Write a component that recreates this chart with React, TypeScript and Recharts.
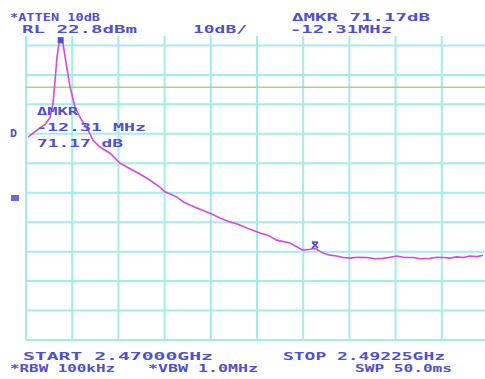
import React from 'react';
import {
  LineChart,
  Line,
  XAxis,
  YAxis,
  ReferenceLine,
  ReferenceDot,
} from 'recharts';

// sweep: 2.47000 GHz .. 2.49225 GHz, 10 divisions (MHz)
const freqTicks = [2470, 2472.225, 2474.45, 2476.675, 2478.9, 2481.125, 2483.35, 2485.575, 2487.8, 2490.025, 2492.25];
// reference level 22.8 dBm, 10 dB/div
const levelTicks = [22.8, 12.8, 2.8, -7.2, -17.2, -27.2, -37.2, -47.2, -57.2, -67.2, -77.2];

const traceFreq = [
  2470.11, 2470.34, 2470.67, 2470.92, 2471.16, 2471.3, 2471.4, 2471.49, 2471.59, 2471.67,
  2471.78, 2471.96, 2472.12, 2472.36, 2472.68, 2472.99, 2473.23, 2473.56, 2474.05, 2474.53,
  2475.15, 2475.83, 2476.45, 2476.69, 2477.26, 2477.56, 2478.14, 2478.86, 2479.34, 2479.82,
  2480.21, 2480.63, 2481.27, 2481.65, 2482.07, 2482.71, 2483.34, 2483.68, 2483.92, 2484.3,
  2484.64, 2484.96, 2485.27, 2485.6, 2485.99, 2486.41, 2486.81, 2487.19, 2487.53, 2487.85,
  2488.25, 2488.64, 2489.02, 2489.46, 2489.79, 2490.08, 2490.42, 2490.74, 2491.05, 2491.38,
  2491.72, 2492.01,
];
const traceLevel = [
  -8.3, -7.0, -5.3, -4.0, -1.6, 3.1, 10.9, 18.7, 23.5, 23.9,
  23.5, 15.4, 8.7, 1.9, -2.6, -6.0, -9.4, -11.7, -13.8, -17.2,
  -19.6, -22.3, -25.3, -26.9, -28.6, -30.3, -32.1, -34.2, -35.8, -37.1,
  -37.9, -39.2, -40.9, -41.6, -43.3, -44.3, -46.7, -46.4, -46.1, -47.7,
  -48.4, -48.7, -49.2, -49.4, -49.1, -49.2, -49.6, -49.5, -49.1, -48.7,
  -49.2, -49.2, -49.6, -49.5, -49.1, -49.2, -49.4, -49.0, -49.2, -48.7,
  -48.9, -48.4,
];

const displayLine = 8.6;
const peakMarker = { f: 2471.67, dB: 24.6 };
const deltaMarker = { f: 2483.92, dB: -45.0 };

const data = traceFreq.map((f, i) => ({ f, dB: traceLevel[i] }));

const TEXT = '#5050cc';
const GRID = '#a3ecec';
const TRACE = '#d64ad8';

const headerTexts = [
  { t: '*ATTEN 10dB', x: 10, y: 21, w: 90 },
  { t: 'ΔMKR 71.17dB', x: 292, y: 21, w: 138 },
  { t: 'RL 22.8dBm', x: 22, y: 33, w: 115 },
  { t: '10dB/', x: 193, y: 33, w: 54 },
  { t: '-12.31MHz', x: 290, y: 33, w: 102 },
  { t: 'START 2.47000GHz', x: 23, y: 360, w: 190 },
  { t: 'STOP 2.49225GHz', x: 283, y: 360, w: 162 },
  { t: '*RBW 100kHz', x: 10, y: 372, w: 105 },
  { t: '*VBW 1.0MHz', x: 148, y: 372, w: 110 },
  { t: 'SWP 50.0ms', x: 355, y: 372, w: 97 },
  { t: 'ΔMKR', x: 37, y: 115, w: 41 },
  { t: '-12.31 MHz', x: 36, y: 131, w: 110 },
  { t: '71.17 dB', x: 37, y: 147, w: 86 },
  { t: 'D', x: 10, y: 137, w: 7 },
];

const SquareMark = (props: any) => (
  <rect x={props.cx - 3} y={props.cy - 3} width={6} height={6} fill={TEXT} />
);

const CrossMark = (props: any) => (
  <g stroke={TEXT} strokeWidth={1.5}>
    <line x1={props.cx - 3} y1={props.cy - 3} x2={props.cx + 3} y2={props.cy + 3} />
    <line x1={props.cx + 3} y1={props.cy - 3} x2={props.cx - 3} y2={props.cy + 3} />
    <line x1={props.cx - 3} y1={props.cy - 3} x2={props.cx + 3} y2={props.cy - 3} />
  </g>
);

export default function App() {
  return (
    <div style={{ position: 'absolute', left: 0, top: 0, width: 485, height: 379, overflow: 'hidden', background: '#ffffff' }}>
      <LineChart width={490} height={379} data={data} margin={{ top: 36, right: 2, left: 26, bottom: 39 }}>
        <XAxis
          dataKey="f"
          type="number"
          domain={[2470, 2492.25]}
          tick={false}
          tickLine={false}
          axisLine={false}
          height={0}
        />
        <YAxis
          type="number"
          domain={[-77.2, 26]}
          tick={false}
          tickLine={false}
          axisLine={false}
          width={0}
        />
        {freqTicks.map((f) => (
          <ReferenceLine key={'v' + f} x={f} stroke={GRID} strokeWidth={2} />
        ))}
        {levelTicks.map((l) => (
          <ReferenceLine key={'h' + l} y={l} stroke={GRID} strokeWidth={2} />
        ))}
        <ReferenceLine y={displayLine} stroke="#a6d874" strokeWidth={1.5} />
        <Line
          type="linear"
          dataKey="dB"
          stroke={TRACE}
          strokeWidth={1.6}
          dot={false}
          isAnimationActive={false}
        />
        <ReferenceDot x={peakMarker.f} y={peakMarker.dB} shape={SquareMark} />
        <ReferenceDot x={deltaMarker.f} y={deltaMarker.dB} shape={CrossMark} />
      </LineChart>
      <svg
        width={485}
        height={379}
        style={{ position: 'absolute', left: 0, top: 0, pointerEvents: 'none' }}
      >
        {headerTexts.map((h) => (
          <text
            key={h.t + h.x}
            x={h.x}
            y={h.y}
            textLength={h.w}
            lengthAdjust="spacingAndGlyphs"
            fill={TEXT}
            fontFamily="'DejaVu Sans Mono', monospace"
            fontSize={11}
            fontWeight="bold"
          >
            {h.t}
          </text>
        ))}
        <rect x={11} y={195} width={8} height={6} fill="#6a6ae0" />
      </svg>
    </div>
  );
}
